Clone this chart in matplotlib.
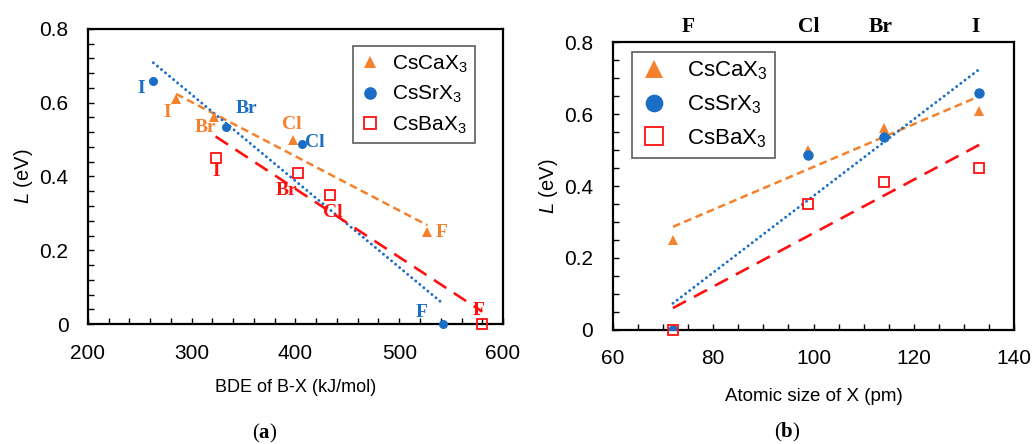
import numpy as np
import matplotlib
matplotlib.use('Agg')
import matplotlib.pyplot as plt
from matplotlib.ticker import MultipleLocator, FuncFormatter

# dados
halides = ['I', 'Br', 'Cl', 'F']
series = ['CsCaX$_3$', 'CsSrX$_3$', 'CsBaX$_3$']

bde_ca = [285, 321, 398, 527]
bde_sr = [263, 333, 406, 542]
bde_ba = [323, 402, 433, 580]

size_x = [133, 114, 99, 72]

L_ca = [0.61, 0.56, 0.50, 0.25]
L_sr = [0.66, 0.535, 0.487, 0.0]
L_ba = [0.45, 0.41, 0.35, 0.0]

top_labels = ['F', 'Cl', 'Br', 'I']
top_pos = [75, 99, 113.3, 132.3]

plt.rcParams['font.family'] = 'Liberation Sans'
plt.rcParams['mathtext.fontset'] = 'custom'
plt.rcParams['mathtext.rm'] = 'Liberation Sans'
plt.rcParams['mathtext.it'] = 'Liberation Sans:italic'
plt.rcParams['mathtext.bf'] = 'Liberation Serif:bold'

orange = '#F4812C'
blue = '#1A6EC6'
red = '#FF1010'

fig = plt.figure(figsize=(10.35, 4.44), dpi=100)
axA = fig.add_axes([0.085, 0.270, 0.401, 0.665])
axB = fig.add_axes([0.592, 0.257, 0.388, 0.648])

styles = [
    dict(color=orange, marker='^', ms=6.5, mfc=orange, mec=orange, mew=0, lw=1.8, ls=(0, (3.1, 1.8))),
    dict(color=blue, marker='o', ms=6.5, mfc=blue, mec=blue, mew=0, lw=2.1, ls=(0, (0.05, 1.75))),
    dict(color=red, marker='s', ms=6.5, mfc='none', mec=red, mew=1.3, lw=1.9, ls=(0, (5.6, 3.4))),
]


def fit_line(ax, x, y, st):
    p = np.polyfit(x, y, 1)
    xx = np.array([min(x), max(x)])
    cap = 'round' if st['marker'] == 'o' else 'butt'
    ax.plot(xx, np.polyval(p, xx), color=st['color'], lw=st['lw'], ls=st['ls'],
            dash_capstyle=cap, zorder=2)


def style_axes(ax, xmaj, xmin, ymin):
    ax.xaxis.set_major_locator(MultipleLocator(xmaj))
    ax.xaxis.set_minor_locator(MultipleLocator(xmin))
    ax.yaxis.set_major_locator(MultipleLocator(0.2))
    ax.yaxis.set_minor_locator(MultipleLocator(ymin))
    ax.yaxis.set_major_formatter(FuncFormatter(lambda v, p: '%g' % round(v, 2)))
    ax.tick_params(which='both', direction='in', length=4.5, width=1.0,
                   top=False, right=False, labelsize=15, pad=14)
    for s in ax.spines.values():
        s.set_linewidth(1.6)
    ax.set_ylim(0, 0.8)
    ax.set_ylabel(r'$\it{L}$ (eV)', fontsize=14.5, labelpad=3)


# ---------------- (a) ----------------
xs_a = [bde_ca, bde_sr, bde_ba]
ys = [L_ca, L_sr, L_ba]
for x, y, st, name in zip(xs_a, ys, styles, series):
    fit_line(axA, x, y, st)
    axA.plot(x, y, ls='none', marker=st['marker'], ms=st['ms'], mfc=st['mfc'],
             mec=st['mec'], mew=st['mew'], clip_on=False, zorder=4, label=name)

# posição dos rótulos (offset em pontos)
offs = [
    [(-6.5, -10), (-6, -7.2), (-1.2, 10.8), (10.3, -0.7)],
    [(-8.6, -6), (14.4, 13.2), (9.4, 1.2), (-15.6, 8.2)],
    [(0.2, -10), (-8, -12.5), (2.4, -12.7), (-2.4, 10)],
]
for x, y, st, off in zip(xs_a, ys, styles, offs):
    for xi, yi, h, o in zip(x, y, halides, off):
        axA.annotate(h, (xi, yi), xytext=o, textcoords='offset points',
                     ha='center', va='center', color=st['color'], fontsize=14,
                     fontfamily='Liberation Serif', fontweight='bold', zorder=5)

axA.set_xlim(200, 600)
style_axes(axA, 100, 20, 0.04)
axA.set_xlabel('BDE of B-X (kJ/mol)', fontsize=13, labelpad=12)
legA = axA.legend(loc='upper left', bbox_to_anchor=(0.639, 0.942), borderaxespad=0,
                  fontsize=15, frameon=True, fancybox=False, edgecolor='#333333',
                  markerscale=1.4, handlelength=0.9, handletextpad=0.6,
                  labelspacing=0.45, borderpad=0.35)
legA.get_frame().set_linewidth(1.2)

# ---------------- (b) ----------------
for y, st, name in zip(ys, styles, series):
    fit_line(axB, size_x, y, st)
    axB.plot(size_x, y, ls='none', marker=st['marker'], ms=st['ms'] + 1, mfc=st['mfc'],
             mec=st['mec'], mew=st['mew'], clip_on=(st['marker'] == 'o'), zorder=4, label=name)

axB.set_xlim(60, 140)
style_axes(axB, 20, 5, 0.05)
axB.set_xlabel('Atomic size of X (pm)', fontsize=13.5, labelpad=14)
for lab, xp in zip(top_labels, top_pos):
    axB.text(xp, 1.053, lab, transform=axB.get_xaxis_transform(), ha='center', va='center',
             fontsize=15.5, fontfamily='Liberation Serif', fontweight='bold')
legB = axB.legend(loc='upper left', bbox_to_anchor=(0.049, 0.966), borderaxespad=0,
                  fontsize=16, frameon=True, fancybox=False, edgecolor='#333333',
                  markerscale=1.7, handlelength=1.2, handletextpad=0.9,
                  labelspacing=0.5, borderpad=0.35)
legB.get_frame().set_linewidth(1.2)

fig.text(0.256, 0.023, r'($\mathbf{a}$)', fontsize=15, fontfamily='Liberation Serif',
         ha='center', va='center')
fig.text(0.761, 0.027, r'($\mathbf{b}$)', fontsize=15, fontfamily='Liberation Serif',
         ha='center', va='center')

fig.savefig('out.png', dpi=100)
